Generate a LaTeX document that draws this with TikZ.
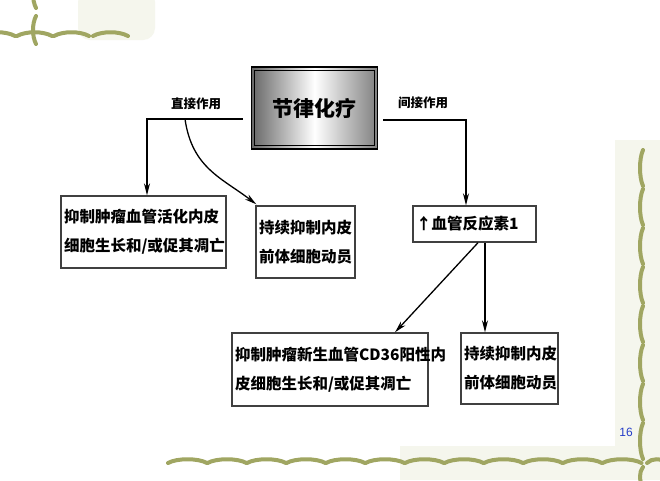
\documentclass[tikz,border=0pt]{standalone}
\usepackage{fontspec}
\newfontfamily\cjk{Noto Sans CJK SC}
\newfontfamily\numfont{Liberation Sans}
\usetikzlibrary{arrows.meta}
\definecolor{vine}{RGB}{160,166,98}
\definecolor{vinebg}{RGB}{245,246,237}
\definecolor{pagenum}{RGB}{35,60,200}

\begin{document}
\begin{tikzpicture}
  [x=1pt,y=-1pt,
   box/.style={draw=black!75,line width=1.4pt,fill=white,inner xsep=3pt,inner ysep=2pt,
     align=left,font=\cjk\bfseries\fontsize{15.5}{29}\selectfont},
   lbl/.style={font=\cjk\bfseries\fontsize{12.5}{14}\selectfont},
   arr/.style={-{Stealth[length=12pt,width=6pt]},line width=1.3pt},
   deco/.style={vine,line width=4pt,line cap=round}]
  \useasboundingbox[fill=white] (0,0) rectangle (660,480);

  % faint background of the slide
  \fill[vinebg] (615,140) rectangle (660,480);
  \fill[vinebg] (400,446) rectangle (660,480);
  \fill[vinebg,rounded corners=12pt] (78,-10) rectangle (155,40);

  % border vines
  \foreach \x in {-20,17,54,93}
    \draw[deco] (\x,36) .. controls ({\x+9},31) and ({\x+26},31) .. ({\x+35},36);
  \foreach \y in {-20,16}
    \draw[deco] (36,\y) .. controls (32,{\y+8}) and (32,{\y+20}) .. (36,{\y+28});
  \foreach \i in {0,...,11}
    \draw[deco] ({168+39.5*\i},463) .. controls ({177+39.5*\i},458) and ({198+39.5*\i},458) .. ({207+39.5*\i},463);
  \draw[deco] (647,463) .. controls (652,458) and (660,458) .. (668,463);
  \foreach \i in {0,...,7}
    \draw[deco] (643,{150+39*\i}) .. controls (639,{159+39*\i}) and (639,{177+39*\i}) .. (643,{186+39*\i});
  \draw[deco] (643,467) .. controls (639,472) and (639,480) .. (643,488);

  % main box
  \node[draw,line width=1.6pt,left color=black!60,right color=black!50,middle color=white,
    minimum width=126,minimum height=82,font=\cjk\bfseries\fontsize{21}{24}\selectfont]
    (main) at (314.5,108) {节律化疗};
  \draw[line width=1pt] ([shift={(4,4)}]main.north west) rectangle ([shift={(-4,-4)}]main.south east);

  % effect boxes
  \node[box,text width=159,minimum height=72] (b1) at (143.5,232)
    {抑制肿瘤血管活化内皮\\细胞生长和/或促其凋亡};
  \node[box,text width=93,minimum height=72] (b2) at (305.5,242)
    {持续抑制内皮\\前体细胞动员};
  \node[box,text width=117,minimum height=36] (b3) at (474.5,224)
    {↑血管反应素1};
  \node[box,text width=190,minimum height=73] (b4) at (330,369.5)
    {抑制肿瘤新生血管CD36阳性内\\皮细胞生长和/或促其凋亡};
  \node[box,text width=91,minimum height=71] (b5) at (509.5,368.5)
    {持续抑制内皮\\前体细胞动员};

  % labels
  \node[lbl] (ld) at (196,104) {直接作用};
  \node[lbl] (li) at (423,103) {间接作用};
  \node[font=\numfont\fontsize{12}{14}\selectfont,text=pagenum] (pg) at (626,432) {16};

  % connectors
  \coordinate (dl) at ([shift={(-8,11)}]main.west);
  \coordinate (dr) at ([shift={(5,12)}]main.east);
  \coordinate (cv) at (185,119);
  \draw[arr] (dl) -| ([xshift=3.5]b1.north);
  \draw[arr] (cv) .. controls (192,168) and (222,178) .. ([shift={(1,-1)}]b2.north west);
  \draw[arr] (dr) -| ([xshift=-8.5]b3.north);
  \draw[arr] ([xshift=3.5]b3.south) -- ([xshift=65]b4.north);
  \draw[arr] ([xshift=10.5]b3.south) -- ([xshift=-24.5]b5.north);

\end{tikzpicture}
\end{document}
